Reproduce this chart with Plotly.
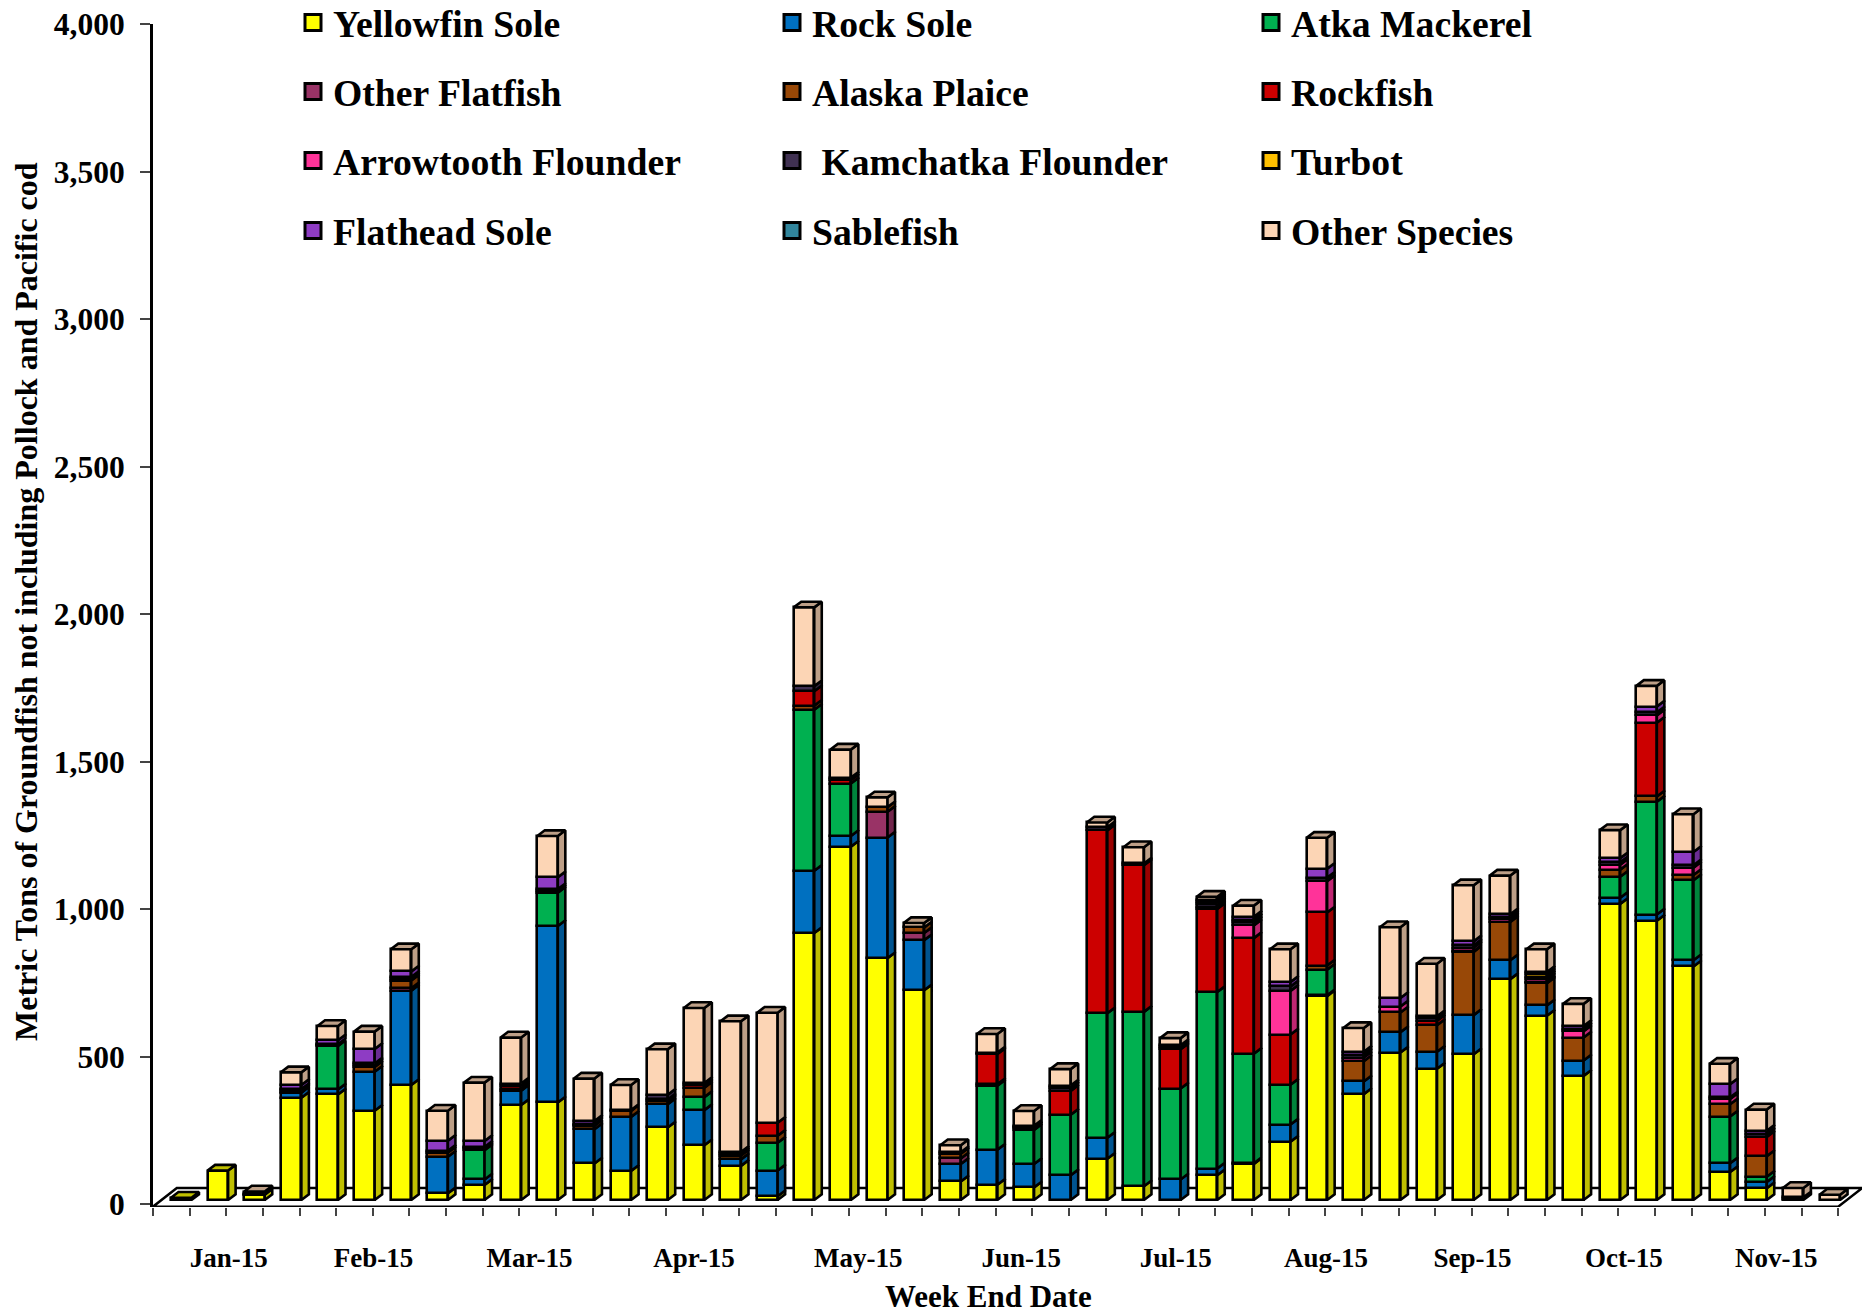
import plotly.graph_objects as go

# Stacked segment values per week (metric tons)
yellowfin = [8,100,18,347,358,303,390,23,51,322,331,124,99,246,186,116,13,905,1198,820,711,63,52,43,0,140,47,0,84,122,198,691,359,500,445,494,749,625,421,1004,947,792,95,40,0,0]
rock_sole = [0,0,3,17,17,132,320,124,19,49,598,116,183,79,119,22,87,211,36,409,170,59,119,79,84,71,0,70,23,3,58,3,43,69,58,133,64,35,52,21,21,21,30,21,0,0]
atka = [0,0,0,3,147,0,0,0,99,0,113,0,0,0,44,0,94,546,178,0,0,0,217,116,205,422,591,308,598,371,135,87,0,0,0,0,0,0,0,71,382,271,158,18,0,0]
other_flatfish = [0,0,0,0,3,0,8,0,0,0,0,0,0,0,0,0,0,0,0,87,24,19,0,0,0,0,0,0,0,0,0,0,0,0,0,0,0,0,0,0,0,0,0,0,0,0]
alaska_plaice = [0,0,0,5,3,16,26,14,6,6,0,12,20,10,32,13,24,14,0,16,19,16,5,7,0,0,0,0,0,0,0,14,69,67,90,214,130,75,78,24,18,18,42,70,5,0]
rockfish = [0,0,0,4,0,8,6,6,5,8,6,3,3,6,8,6,44,49,12,0,0,0,102,4,81,620,497,133,282,392,170,180,0,0,15,3,0,4,0,0,250,0,0,65,0,0]
arrowtooth = [0,0,0,0,0,0,0,0,0,0,0,0,0,0,0,0,0,0,0,0,0,0,0,0,0,0,0,0,7,43,148,106,12,20,0,12,11,10,21,17,25,25,18,0,0,0]
kamchatka = [0,0,0,0,0,4,6,0,0,0,6,2,0,16,8,6,0,17,8,0,0,5,5,3,10,11,6,7,10,10,15,12,10,0,8,8,7,8,8,8,10,8,5,10,4,0]
turbot = [0,0,0,0,0,0,0,0,0,0,0,0,0,0,0,0,0,0,0,0,0,0,0,0,8,0,0,0,6,9,0,0,0,0,0,0,0,8,0,0,0,0,0,0,0,0]
flathead = [0,0,0,14,14,49,19,34,20,10,40,11,0,0,0,0,0,0,0,0,0,0,0,0,0,0,0,7,7,10,15,30,10,29,7,13,8,8,10,14,20,45,45,11,0,0]
sablefish = [0,0,0,0,0,0,0,0,0,0,0,0,0,0,0,0,0,0,0,0,0,0,0,0,0,0,0,0,0,0,0,0,0,0,0,0,0,0,0,0,0,0,0,0,0,0]
other_species = [0,0,8,43,48,59,75,102,198,156,140,144,85,154,254,443,373,267,95,33,15,24,63,50,56,16,55,24,11,38,111,105,80,240,178,190,131,77,75,95,70,128,69,72,32,18]

series_names = ["Yellowfin Sole","Rock Sole","Atka Mackerel","Other Flatfish","Alaska Plaice","Rockfish",
                "Arrowtooth Flounder","\u00a0Kamchatka Flounder","Turbot","Flathead Sole","Sablefish","Other Species"]
series_values = [yellowfin,rock_sole,atka,other_flatfish,alaska_plaice,rockfish,arrowtooth,kamchatka,turbot,flathead,sablefish,other_species]
series_colors = ["#FFFF00","#0070C0","#00B050","#993366","#984807","#CC0000","#FF3399","#403152","#FFC000","#8E3CC4","#31859C","#FCD5B5"]

month_labels = ["Jan-15","Feb-15","Mar-15","Apr-15","May-15","Jun-15","Jul-15","Aug-15","Sep-15","Oct-15","Nov-15"]
month_positions = [2.07,6.02,10.28,14.77,19.25,23.7,27.92,32.02,36.02,40.15,44.31]
y_ticks = [0,500,1000,1500,2000,2500,3000,3500,4000]

# Pseudo-3D geometry, in axis units
LIFT = 13.5
BAR_X = 0.77
BAR_W = 0.56
DX = 0.205
DY = 19.3
LINE = 2.6
N = len(yellowfin)
xs = [i + BAR_X for i in range(N)]

def shade(hex_color, k=0.75):
    r, g, b = (int(hex_color[i:i+2], 16) for i in (1, 3, 5))
    return f"rgb({int(r*k)},{int(g*k)},{int(b*k)})"

fig = go.Figure()
bases = [LIFT] * N
tops = [None] * N
sides = []
for s, vals in enumerate(series_values):
    ys, bs = [], []
    sx, sy = [], []
    for i, v in enumerate(vals):
        if v > 0:
            ys.append(v); bs.append(bases[i])
            r = xs[i] + BAR_W / 2
            sx += [r, r + DX, r + DX, r, r, None]
            sy += [bases[i], bases[i] + DY, bases[i] + v + DY, bases[i] + v, bases[i], None]
            bases[i] += v
            tops[i] = s
        else:
            ys.append(None); bs.append(None)
    fig.add_trace(go.Bar(x=xs, y=ys, base=bs, width=BAR_W, name=series_names[s].strip(),
                         marker=dict(color=series_colors[s], line=dict(color="black", width=LINE)),
                         showlegend=False))
    sides.append((sx, sy))

for s, (sx, sy) in enumerate(sides):
    if sx:
        fig.add_trace(go.Scatter(x=sx, y=sy, mode="lines", fill="toself", fillcolor=shade(series_colors[s]),
                                 line=dict(color="black", width=LINE), showlegend=False, hoverinfo="skip"))

for s in range(len(series_values)):
    tx, ty = [], []
    for i in range(N):
        if tops[i] == s:
            l, r, t = xs[i] - BAR_W / 2, xs[i] + BAR_W / 2, bases[i]
            tx += [l, l + DX, r + DX, r, l, None]
            ty += [t, t + DY, t + DY, t, t, None]
    if tx:
        fig.add_trace(go.Scatter(x=tx, y=ty, mode="lines", fill="toself", fillcolor=shade(series_colors[s]),
                                 line=dict(color="black", width=LINE), showlegend=False, hoverinfo="skip"))

# Legend: one horizontal legend per row
legend_font = dict(family="Liberation Serif", size=37.7, color="black", weight="bold")
row_py = [23, 92, 161, 231]
PLOT_TOP, PLOT_BOTTOM = 24, 1207
layout_legends = {}
for s, name in enumerate(series_names):
    row = s // 3
    key = "legend" if row == 0 else f"legend{row+1}"
    fig.add_trace(go.Scatter(x=[None], y=[None], mode="markers", name=name, legend=key,
                             marker=dict(symbol="square", size=16, color=series_colors[s], line=dict(color="black", width=3)),
                             hoverinfo="skip"))
for row in range(4):
    key = "legend" if row == 0 else f"legend{row+1}"
    layout_legends[key] = dict(orientation="h", x=(293-153)/1709, y=(PLOT_BOTTOM-row_py[row])/(PLOT_BOTTOM-PLOT_TOP),
                               xanchor="left", yanchor="middle", xref="paper", yref="paper",
                               entrywidth=434, entrywidthmode="pixels",
                               font=legend_font, itemsizing="trace", bgcolor="rgba(0,0,0,0)", borderwidth=0,
                               itemclick=False, itemdoubleclick=False)

fig.update_layout(
    width=1862, height=1314,
    margin=dict(l=153, r=0, t=PLOT_TOP, b=1314-PLOT_BOTTOM, pad=0, autoexpand=False),
    paper_bgcolor="white", plot_bgcolor="white",
    barmode="overlay", bargap=0,
    showlegend=True,
    font=dict(family="Liberation Serif", color="black"),
    xaxis=dict(range=[0, 46.65], showline=False, showgrid=False, zeroline=False,
               tickmode="array", tickvals=month_positions, ticktext=month_labels, ticks="",
               ticklabelstandoff=32,
               tickfont=dict(family="Liberation Serif", size=27, color="black", weight="bold"),
               minor=dict(ticks="outside", ticklen=8, tickwidth=2, tickcolor="#444", tick0=0, dtick=1, showgrid=False)),
    yaxis=dict(range=[-10, 4000], showline=True, linecolor="black", linewidth=3, showgrid=False, zeroline=False,
               tickmode="array", tickvals=y_ticks, tickformat=",", ticks="outside", ticklen=10, tickwidth=2,
               tickcolor="#444", ticklabelstandoff=9,
               tickfont=dict(family="Liberation Serif", size=31.5, color="black", weight="bold")),
    shapes=[dict(type="path", xref="x", yref="y", layer="below",
                 path="M 0 -9 L 46 -9 L 46.65 54 L 0.65 54 Z",
                 line=dict(color="black", width=2.5))],
    annotations=[
        dict(text="<b>Week End Date</b>", xref="paper", yref="paper", x=(988-153)/1709, y=-(1296-PLOT_BOTTOM)/1183,
             showarrow=False, xanchor="center", yanchor="middle",
             font=dict(family="Liberation Serif", size=31, color="black")),
        dict(text="<b>Metric Tons of Groundfish not including Pollock and Pacific cod</b>", xref="paper", yref="paper",
             x=-(153-26)/1709, y=(PLOT_BOTTOM-602)/1183, textangle=-90, showarrow=False,
             xanchor="center", yanchor="middle",
             font=dict(family="Liberation Serif", size=32, color="black")),
    ],
    **layout_legends,
)

fig.write_html("out.html", config=dict(displayModeBar=False),
               post_script="document.body.style.margin='0';document.body.style.overflow='hidden';")
